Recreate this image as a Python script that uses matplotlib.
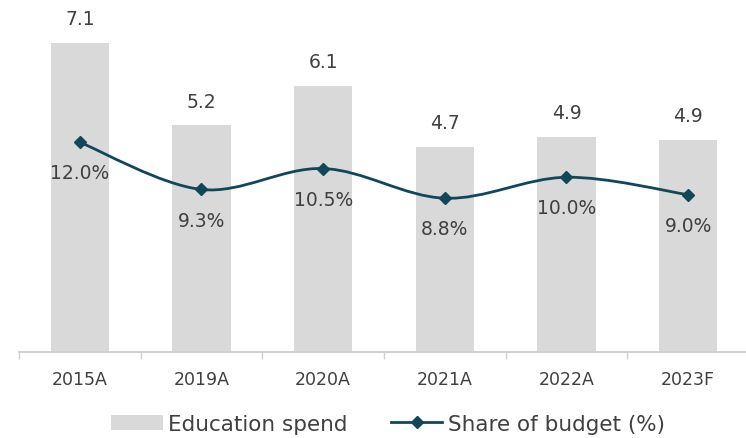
import numpy as np
import matplotlib
matplotlib.use("Agg")
import matplotlib.pyplot as plt
from matplotlib.path import Path
from matplotlib.patches import PathPatch

years = ["2015A", "2019A", "2020A", "2021A", "2022A", "2023F"]
spend = [7.1, 5.2, 6.1, 4.71, 4.94, 4.87]
share = [12.0, 9.3, 10.5, 8.8, 10.0, 9.0]

BAR_COLOR = "#D9D9D9"
LINE_COLOR = "#12475A"
TEXT_COLOR = "#404040"

plt.rcParams["font.family"] = ["DejaVu Sans"]

fig = plt.figure(figsize=(7.46, 4.39), dpi=100)
ax = fig.add_axes([19 / 746, 86 / 439, 730 / 746, 353 / 439])
ax2 = ax.twinx()

x = np.arange(len(years))
bars = ax.bar(x, spend, width=0.48, color=BAR_COLOR, label="Education spend", zorder=1)
for xi, v in zip(x, spend):
    ax.annotate(f"{v:.1f}", (xi, v), xytext=(0, 17.5), textcoords="offset points",
                ha="center", va="center", fontsize=13.5, color=TEXT_COLOR)

# smoothed line through the points (catmull-rom style bezier, like excel)
pts = np.column_stack([x, share]).astype(float)
verts = [pts[0]]
codes = [Path.MOVETO]
for i in range(len(pts) - 1):
    p0 = pts[max(i - 1, 0)]
    p1 = pts[i]
    p2 = pts[i + 1]
    p3 = pts[min(i + 2, len(pts) - 1)]
    c1 = p1 + (p2 - p0) / 6
    c2 = p2 - (p3 - p1) / 6
    verts += [c1, c2, p2]
    codes += [Path.CURVE4] * 3
ax2.add_patch(PathPatch(Path(verts, codes), facecolor="none", edgecolor=LINE_COLOR,
                        lw=2, zorder=3))
ax2.plot(x, share, linestyle="none", marker="D", markersize=6, color=LINE_COLOR, zorder=4)
for xi, v in zip(x, share):
    ax2.annotate(f"{v:.1f}%", (xi, v), xytext=(0, -22), textcoords="offset points",
                 ha="center", va="center", fontsize=13.5, color=TEXT_COLOR)

ax.set_xlim(-0.5, len(years) - 0.5)
ax.set_ylim(0, 8.1)
ax2.set_ylim(0, 20.2)

ax.set_xticks(x)
ax.set_xticklabels(years, fontsize=12.5, color=TEXT_COLOR)
ax.set_xticks(np.arange(len(years) + 1) - 0.5, minor=True)
ax.tick_params(axis="x", which="major", length=0, pad=13)
ax.tick_params(axis="x", which="minor", length=5, color="#D0D0D0", width=1)
ax.set_yticks([])
ax2.set_yticks([])
for a in (ax, ax2):
    for s in ("top", "right", "left"):
        a.spines[s].set_visible(False)
    a.spines["bottom"].set_color("#D0D0D0")
    a.spines["bottom"].set_linewidth(1.2)

line_handle = plt.Line2D([], [], color=LINE_COLOR, lw=2, marker="D", markersize=6)
fig.legend([bars, line_handle], ["Education spend", "Share of budget (%)"],
           loc="center", bbox_to_anchor=(0.5 + 15 / 746, 14 / 439), ncol=2, frameon=False,
           fontsize=15.5, labelcolor=TEXT_COLOR, handlelength=2.4, handleheight=0.75,
           columnspacing=2.0, handletextpad=0.25)

fig.savefig("out.png", dpi=100)
